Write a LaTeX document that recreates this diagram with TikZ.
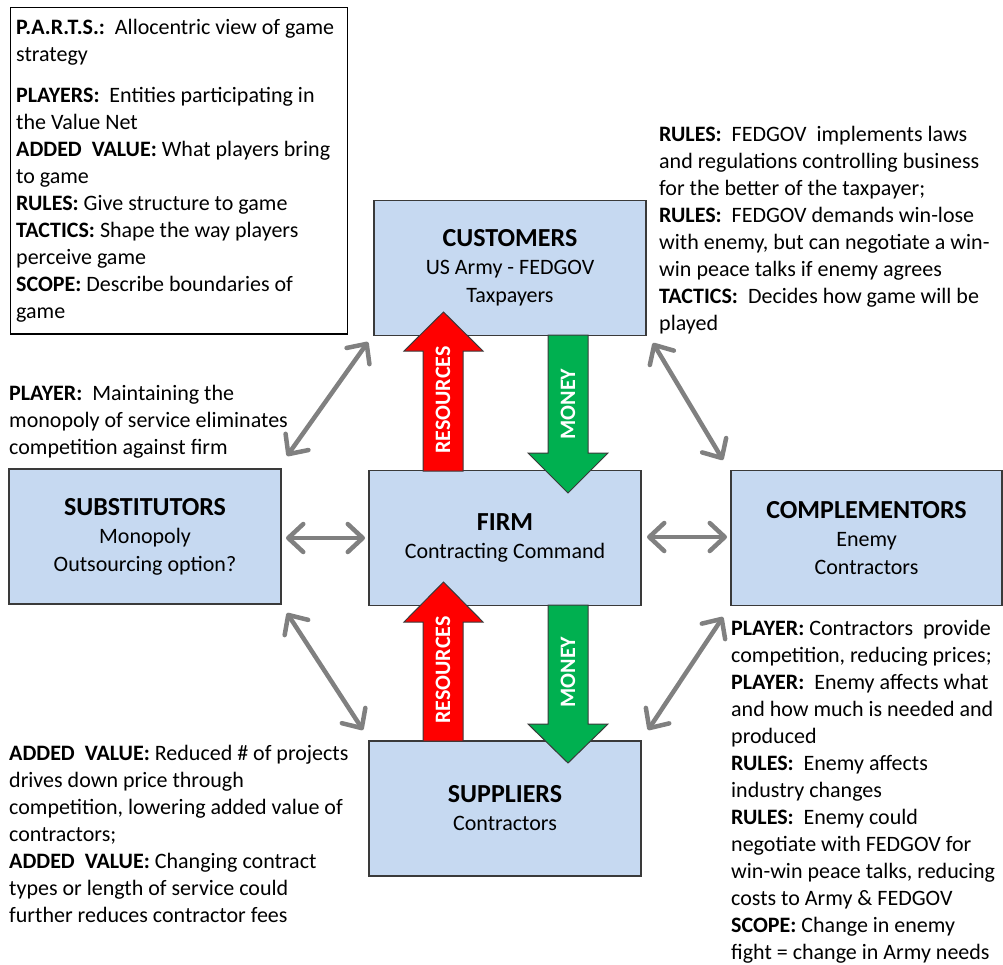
\documentclass[tikz,border=0pt]{standalone}
\usepackage{fontspec}
\setmainfont{Carlito}
\usetikzlibrary{arrows.meta}
\definecolor{boxfill}{HTML}{C6D9F1}
\definecolor{boxline}{HTML}{3A3A3A}
\definecolor{linkgray}{HTML}{808080}
\definecolor{resred}{HTML}{FF0000}
\definecolor{moneygreen}{HTML}{00B050}
\begin{document}
\begin{tikzpicture}[x=1pt,y=-1pt,
  entity/.style={draw=boxline, line width=1.5pt, fill=boxfill, minimum width=272pt,
    minimum height=135pt, align=center, inner sep=0pt, font=\fontsize{22}{28}\selectfont},
  note/.style={anchor=base west, align=left, inner sep=0pt, font=\fontsize{22}{27}\selectfont},
  link/.style={draw=linkgray, line width=4.5pt, line cap=round, line join=round,
    {Straight Barb[length=15pt,width=28pt,round]}-{Straight Barb[length=15pt,width=28pt,round]}},
  blockarrow/.style={draw=boxline, line width=1pt, line join=miter},
  flowlabel/.style={rotate=90, text=white, inner sep=0pt, font=\fontsize{22}{24}\selectfont\bfseries}
]
\useasboundingbox (0,0) rectangle (1003,964);

% legend box (notes are anchored at the baseline of their last line)
\draw[line width=1.2pt, draw=black] (10.5,7.5) rectangle (347.5,334);
\node[note] (legA) at (16,61) {\textbf{P.A.R.T.S.:}\ \ Allocentric view of game\\strategy};
\node[note] (legB) at (16,318) {\textbf{PLAYERS:}\ \ Entities participating in\\the Value Net\\
\textbf{ADDED\ \ VALUE:} What players bring\\to game\\
\textbf{RULES:} Give structure to game\\
\textbf{TACTICS:} Shape the way players\\perceive game\\
\textbf{SCOPE:} Describe boundaries of\\game};

% entities
\node[entity] (customers) at (510,268) {{\fontsize{26}{28}\selectfont\bfseries CUSTOMERS}\\US Army - FEDGOV\\Taxpayers};
\node[entity] (firm) at (505,538) {{\fontsize{26}{28}\selectfont\bfseries FIRM}\\Contracting Command};
\node[entity] (subst) at (145,536.5) {{\fontsize{26}{28}\selectfont\bfseries SUBSTITUTORS}\\Monopoly\\Outsourcing option?};
\node[entity, minimum width=271pt] (comp) at (866.5,538) {{\fontsize{26}{28}\selectfont\bfseries COMPLEMENTORS}\\Enemy\\Contractors};
\node[entity] (suppliers) at (505,808.5) {{\fontsize{26}{28}\selectfont\bfseries SUPPLIERS}\\Contractors};

% block arrows
\draw[blockarrow, fill=resred] (423,471) -- (423,351) -- (404,351) -- (443.5,312) -- (483,351) -- (463,351) -- (463,471) -- cycle;
\draw[blockarrow, fill=moneygreen] (548,335) -- (548,453) -- (528,453) -- (568,493) -- (608,453) -- (588,453) -- (588,335) -- cycle;
\draw[blockarrow, fill=resred] (423,741) -- (423,622) -- (404,622) -- (443.5,582) -- (483,622) -- (463,622) -- (463,741) -- cycle;
\draw[blockarrow, fill=moneygreen] (548,605) -- (548,724) -- (528,724) -- (568,763) -- (608,724) -- (588,724) -- (588,605) -- cycle;
\node[flowlabel] (res1) at (443,400) {RESOURCES};
\node[flowlabel] (mon1) at (568,404) {MONEY};
\node[flowlabel] (res2) at (443,670) {RESOURCES};
\node[flowlabel] (mon2) at (568,672) {MONEY};

% link arrows
\coordinate (cusSW) at (368,342);
\coordinate (subNE) at (287,456);
\coordinate (cusSE) at (653,343);
\coordinate (comNW) at (723,460);
\coordinate (subSE) at (287,613);
\coordinate (supNW) at (363,730);
\coordinate (comSW) at (723,617);
\coordinate (supNE) at (648,730);
\coordinate (subE) at (286,538);
\coordinate (firmW) at (365,538);
\coordinate (firmE) at (647,537);
\coordinate (comW) at (727,537);
\draw[link] (cusSW) -- (subNE);
\draw[link] (cusSE) -- (comNW);
\draw[link] (subSE) -- (supNW);
\draw[link] (comSW) -- (supNE);
\draw[link] (subE) -- (firmW);
\draw[link] (firmE) -- (comW);

% notes
\node[note] (custNote) at (659,330) {\textbf{RULES:}\ \ FEDGOV\ \ implements laws\\and regulations controlling business\\for the better of the taxpayer;\\
\textbf{RULES:}\ \ FEDGOV demands win-lose\\with enemy, but can negotiate a win-\\win peace talks if enemy agrees\\
\textbf{TACTICS:}\ \ Decides how game will be\\played};
\node[note] (subNote) at (9,454) {\textbf{PLAYER:}\ \ Maintaining the\\monopoly of service eliminates\\competition against firm};
\node[note] (supNote) at (9,922) {\textbf{ADDED\ \ VALUE:} Reduced \# of projects\\drives down price through\\competition, lowering added value of\\contractors;\\
\textbf{ADDED\ \ VALUE:} Changing contract\\types or length of service could\\further reduces contractor fees};
\node[note] (comNote) at (731,959) {\textbf{PLAYER:} Contractors\ \ provide\\competition, reducing prices;\\
\textbf{PLAYER:}\ \ Enemy affects what\\and how much is needed and\\produced\\
\textbf{RULES:}\ \ Enemy affects\\industry changes\\
\textbf{RULES:}\ \ Enemy could\\negotiate with FEDGOV for\\win-win peace talks, reducing\\costs to Army \& FEDGOV\\
\textbf{SCOPE:} Change in enemy\\fight = change in Army needs};
\end{tikzpicture}
\end{document}
